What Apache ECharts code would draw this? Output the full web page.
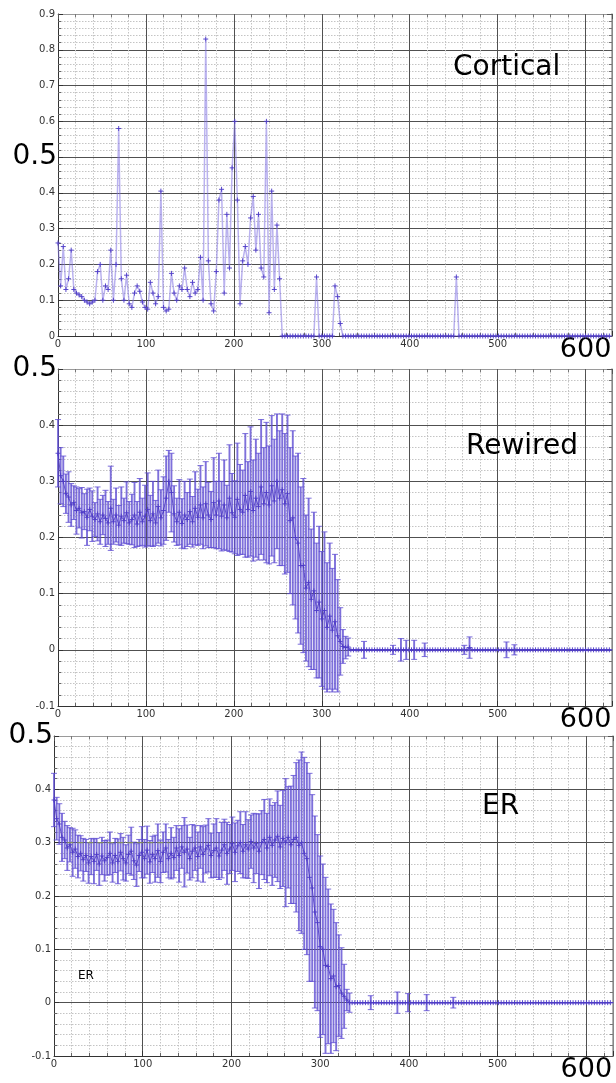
<!DOCTYPE html>
<html>
<head>
<meta charset="utf-8">
<script src="https://cdn.jsdelivr.net/npm/echarts@6/dist/echarts.min.js"></script>
<style>
html, body { margin: 0; padding: 0; background: #fff; }
#chart { width: 616px; height: 1083px; }
</style>
</head>
<body>
<div id="chart"></div>
<script>
// Samples are taken every STEP units along the x axis, starting at 0.
const STEP = 3;

// Panel names
const panelTitles = ['Cortical', 'Rewired', 'ER'];
const erNote = 'ER';

// Tick labels drawn in the large style
const bigXLabel = '600';
const bigYLabel = '0.5';

// Cortical network: single measurement per sample
const corticalY = [
  0.26, 0.14, 0.25, 0.13, 0.16, 0.24, 0.13, 0.12, 0.115, 0.11,
  0.10, 0.095, 0.09, 0.095, 0.10, 0.18, 0.20, 0.10, 0.14, 0.13,
  0.24, 0.10, 0.20, 0.58, 0.16, 0.10, 0.17, 0.09, 0.08, 0.12,
  0.14, 0.125, 0.095, 0.08, 0.075, 0.15, 0.12, 0.09, 0.11, 0.405,
  0.08, 0.07, 0.075, 0.175, 0.12, 0.10, 0.14, 0.13, 0.19, 0.13,
  0.11, 0.15, 0.12, 0.13, 0.22, 0.10, 0.83, 0.21, 0.09, 0.07,
  0.18, 0.38, 0.41, 0.12, 0.34, 0.19, 0.47, 0.60, 0.38, 0.09,
  0.21, 0.25, 0.20, 0.33, 0.39, 0.24, 0.34, 0.19, 0.165, 0.60,
  0.065, 0.405, 0.13, 0.31, 0.16, 0, 0, 0, 0, 0,
  0, 0, 0, 0, 0, 0, 0, 0, 0.165, 0,
  0, 0, 0, 0, 0, 0.14, 0.11, 0.035, 0, 0,
  0, 0, 0, 0, 0, 0, 0, 0, 0, 0,
  0, 0, 0, 0, 0, 0, 0, 0, 0, 0,
  0, 0, 0, 0, 0, 0, 0, 0, 0, 0,
  0, 0, 0, 0, 0, 0, 0, 0, 0, 0,
  0, 0.165, 0, 0, 0, 0, 0, 0, 0, 0,
  0, 0, 0, 0, 0, 0, 0, 0, 0, 0,
  0, 0, 0, 0, 0, 0, 0, 0, 0, 0,
  0, 0, 0, 0, 0, 0, 0, 0, 0, 0,
  0, 0, 0, 0, 0, 0, 0, 0, 0, 0,
  0, 0, 0, 0, 0, 0, 0, 0, 0, 0
];

// Rewired network: mean and error half-width per sample
const rewiredMean = [
  0.35, 0.31, 0.30, 0.278, 0.272, 0.258, 0.262, 0.248, 0.252, 0.244,
  0.246, 0.236, 0.25, 0.238, 0.232, 0.242, 0.228, 0.24, 0.234, 0.226,
  0.252, 0.228, 0.24, 0.222, 0.238, 0.23, 0.244, 0.226, 0.232, 0.24,
  0.224, 0.245, 0.228, 0.238, 0.25, 0.23, 0.242, 0.226, 0.255, 0.235,
  0.248, 0.27, 0.30, 0.28, 0.242, 0.228, 0.245, 0.225, 0.24, 0.232,
  0.246, 0.228, 0.252, 0.236, 0.258, 0.235, 0.26, 0.24, 0.232, 0.262,
  0.24, 0.265, 0.238, 0.258, 0.235, 0.27, 0.244, 0.236, 0.268, 0.25,
  0.245, 0.275, 0.25, 0.282, 0.248, 0.27, 0.255, 0.29, 0.26, 0.28,
  0.258, 0.292, 0.265, 0.30, 0.27, 0.285, 0.26, 0.278, 0.23, 0.235,
  0.20, 0.19, 0.15, 0.15, 0.11, 0.12, 0.09, 0.105, 0.07, 0.085,
  0.055, 0.07, 0.04, 0.06, 0.035, 0.05, 0.025, 0.015, 0.006, 0.004,
  0.005, 0, 0, 0, 0, 0, 0, 0, 0, 0,
  0, 0, 0, 0, 0, 0, 0, 0, 0, 0,
  0, 0, 0, 0, 0, 0, 0, 0, 0, 0,
  0, 0, 0, 0, 0, 0, 0, 0, 0, 0,
  0, 0, 0, 0, 0, 0, 0.004, 0, 0, 0,
  0, 0, 0, 0, 0, 0, 0, 0, 0, 0,
  0, 0, 0, 0, 0, 0, 0, 0, 0, 0,
  0, 0, 0, 0, 0, 0, 0, 0, 0, 0,
  0, 0, 0, 0, 0, 0, 0, 0, 0, 0,
  0, 0, 0, 0, 0, 0, 0, 0, 0, 0
];
const rewiredErr = [
  0.06, 0.05, 0.045, 0.035, 0.045, 0.038, 0.03, 0.042, 0.035, 0.045,
  0.032, 0.05, 0.038, 0.045, 0.03, 0.048, 0.04, 0.035, 0.05, 0.038,
  0.075, 0.04, 0.048, 0.035, 0.052, 0.04, 0.055, 0.038, 0.045, 0.058,
  0.04, 0.06, 0.042, 0.055, 0.065, 0.045, 0.058, 0.04, 0.065, 0.05,
  0.06, 0.075, 0.055, 0.07, 0.05, 0.042, 0.058, 0.044, 0.06, 0.048,
  0.058, 0.045, 0.065, 0.05, 0.07, 0.055, 0.075, 0.058, 0.05, 0.08,
  0.06, 0.085, 0.062, 0.08, 0.058, 0.095, 0.07, 0.065, 0.10, 0.08,
  0.075, 0.11, 0.085, 0.115, 0.09, 0.105, 0.095, 0.12, 0.10, 0.125,
  0.105, 0.125, 0.11, 0.12, 0.12, 0.135, 0.125, 0.14, 0.13, 0.155,
  0.145, 0.16, 0.14, 0.155, 0.13, 0.15, 0.125, 0.14, 0.12, 0.135,
  0.12, 0.14, 0.115, 0.13, 0.11, 0.12, 0.10, 0.06, 0.03, 0.02,
  0.016, 0, 0, 0, 0, 0, 0.015, 0, 0, 0,
  0, 0, 0, 0, 0, 0, 0, 0.008, 0, 0,
  0.02, 0, 0.017, 0, 0, 0.017, 0, 0, 0, 0.012,
  0, 0, 0, 0, 0, 0, 0, 0, 0, 0,
  0, 0, 0, 0, 0.008, 0, 0.019, 0, 0, 0,
  0, 0, 0, 0, 0, 0, 0, 0, 0, 0,
  0.014, 0, 0, 0.009, 0, 0, 0, 0, 0, 0,
  0, 0, 0, 0, 0, 0, 0, 0, 0, 0,
  0, 0, 0, 0, 0, 0, 0, 0, 0, 0,
  0, 0, 0, 0, 0, 0, 0, 0, 0, 0
];

// Erdos-Renyi network: mean and error half-width per sample
const erMean = [
  0.38, 0.345, 0.335, 0.31, 0.305, 0.29, 0.296, 0.282, 0.288, 0.274,
  0.28, 0.268, 0.276, 0.262, 0.274, 0.265, 0.278, 0.26, 0.275, 0.266,
  0.272, 0.28, 0.262, 0.276, 0.265, 0.282, 0.27, 0.262, 0.278, 0.284,
  0.266, 0.258, 0.276, 0.282, 0.27, 0.286, 0.264, 0.278, 0.27, 0.285,
  0.265, 0.282, 0.29, 0.27, 0.28, 0.272, 0.29, 0.276, 0.292, 0.282,
  0.288, 0.27, 0.284, 0.29, 0.274, 0.292, 0.278, 0.288, 0.295, 0.276,
  0.285, 0.29, 0.275, 0.286, 0.296, 0.28, 0.288, 0.298, 0.282, 0.294,
  0.30, 0.284, 0.296, 0.288, 0.302, 0.29, 0.298, 0.284, 0.30, 0.306,
  0.29, 0.31, 0.295, 0.305, 0.312, 0.292, 0.308, 0.30, 0.31, 0.296,
  0.306, 0.31, 0.295, 0.30, 0.28, 0.27, 0.235, 0.215, 0.17, 0.15,
  0.105, 0.10, 0.07, 0.068, 0.045, 0.05, 0.03, 0.032, 0.018, 0.012,
  0.005, 0, 0, 0, 0, 0, 0, 0, 0, 0,
  0, 0, 0, 0, 0, 0, 0, 0, 0, 0,
  0, 0, 0, 0, 0, 0, 0, 0, 0, 0,
  0, 0, 0, 0, 0, 0, 0, 0, 0, 0,
  0, 0, 0, 0, 0, 0, 0, 0, 0, 0,
  0, 0, 0, 0, 0, 0, 0, 0, 0, 0,
  0, 0, 0, 0, 0, 0, 0, 0, 0, 0,
  0, 0, 0, 0, 0, 0, 0, 0, 0, 0,
  0, 0, 0, 0, 0, 0, 0, 0, 0, 0,
  0, 0, 0, 0, 0, 0, 0, 0, 0, 0
];
const erErr = [
  0.05, 0.04, 0.038, 0.045, 0.035, 0.042, 0.032, 0.045, 0.036, 0.04,
  0.033, 0.04, 0.03, 0.038, 0.034, 0.042, 0.03, 0.04, 0.035, 0.038,
  0.033, 0.04, 0.036, 0.032, 0.042, 0.035, 0.04, 0.034, 0.036, 0.045,
  0.035, 0.04, 0.03, 0.048, 0.036, 0.045, 0.04, 0.034, 0.044, 0.05,
  0.04, 0.038, 0.045, 0.036, 0.048, 0.038, 0.042, 0.05, 0.04, 0.065,
  0.045, 0.04, 0.05, 0.042, 0.046, 0.04, 0.052, 0.045, 0.05, 0.042,
  0.05, 0.055, 0.044, 0.052, 0.048, 0.058, 0.046, 0.05, 0.055, 0.048,
  0.058, 0.05, 0.062, 0.055, 0.05, 0.065, 0.056, 0.07, 0.06, 0.075,
  0.065, 0.072, 0.075, 0.07, 0.085, 0.078, 0.09, 0.12, 0.095, 0.11,
  0.12, 0.14, 0.16, 0.17, 0.18, 0.18, 0.195, 0.175, 0.18, 0.165,
  0.17, 0.16, 0.165, 0.145, 0.14, 0.125, 0.12, 0.095, 0.085, 0.06,
  0.02, 0.018, 0, 0, 0, 0, 0, 0, 0, 0.013,
  0, 0, 0, 0, 0, 0, 0, 0, 0, 0.02,
  0, 0, 0, 0.017, 0, 0, 0, 0, 0, 0,
  0.015, 0, 0, 0, 0, 0, 0, 0, 0, 0,
  0.01, 0, 0, 0, 0, 0, 0, 0, 0, 0,
  0, 0, 0, 0, 0, 0, 0, 0, 0, 0,
  0, 0, 0, 0, 0, 0, 0, 0, 0, 0,
  0, 0, 0, 0, 0, 0, 0, 0, 0, 0,
  0, 0, 0, 0, 0, 0, 0, 0, 0, 0,
  0, 0, 0, 0, 0, 0, 0, 0, 0, 0
];

// Dashed reference level in the ER panel
const erGuideX = [15, 130];
const erGuideY = [0.3, 0.3];

// ---------------------------------------------------------------------------
const FONT = 'DejaVu Sans';
const X_MAX = 630;
const Y_RANGES = [[0, 0.9], [-0.1, 0.5], [-0.1, 0.5]];
const GRIDS = [
  { left: 58, top: 14, width: 554, height: 322 },
  { left: 58, top: 369, width: 554, height: 337 },
  { left: 54, top: 736, width: 559, height: 323 }
];
const BAR_COLOR = 'rgba(94, 76, 210, 0.8)';
const CAP_COLOR = 'rgba(94, 76, 210, 0.8)';
const MARK_COLOR = 'rgba(80, 62, 200, 0.95)';
const LINE_COLOR = 'rgba(76, 58, 196, 0.85)';

function xLabel(v) {
  if (v > 600) return '';
  const s = String(v);
  return s === bigXLabel ? '{b|' + s + '}' : '{s|' + s + '}';
}
function yLabel(v) {
  const s = String(Number(v.toFixed(1)));
  return s === bigYLabel ? '{b|' + s + '}' : '{s|' + s + '}';
}

function mainX(i) {
  return {
    type: 'value', gridIndex: i, min: 0, max: X_MAX, interval: 100, position: 'bottom',
    axisLine: { show: true, onZero: false, lineStyle: { color: '#333', width: 1 } },
    axisTick: { show: true, inside: true, length: 5, lineStyle: { color: '#333' } },
    minorTick: { show: true, splitNumber: 5, length: 3, lineStyle: { color: '#666' } },
    splitLine: { show: true, lineStyle: { color: '#505050', width: 1 } },
    minorSplitLine: { show: true, lineStyle: { color: '#c4c4c4', width: 1, type: [1.5, 1.5] } },
    axisLabel: {
      margin: 0, formatter: xLabel,
      rich: {
        s: { fontFamily: FONT, fontSize: 10, color: '#333', lineHeight: 12, padding: [5, 0, 0, 0] },
        b: { fontFamily: FONT, fontSize: 27, color: '#000', lineHeight: 27 }
      }
    }
  };
}
function mirrorX(i) {
  return {
    type: 'value', gridIndex: i, min: 0, max: X_MAX, interval: 100, position: 'top',
    axisLine: { show: true, onZero: false, lineStyle: { color: '#9a9a9a', width: 1 } },
    axisTick: { show: true, inside: true, length: 5, lineStyle: { color: '#555' } },
    minorTick: { show: true, splitNumber: 5, length: 3, lineStyle: { color: '#777' } },
    splitLine: { show: false }, minorSplitLine: { show: false },
    axisLabel: { show: false }
  };
}
function mainY(i) {
  return {
    type: 'value', gridIndex: i, min: Y_RANGES[i][0], max: Y_RANGES[i][1], interval: 0.1,
    position: 'left',
    axisLine: { show: true, onZero: false, lineStyle: { color: '#333', width: 1 } },
    axisTick: { show: true, inside: true, length: 5, lineStyle: { color: '#333' } },
    minorTick: { show: true, splitNumber: 5, length: 3, lineStyle: { color: '#666' } },
    splitLine: { show: true, lineStyle: { color: '#505050', width: 1 } },
    minorSplitLine: { show: true, lineStyle: { color: '#c4c4c4', width: 1, type: [1.5, 1.5] } },
    axisLabel: {
      margin: 1, formatter: yLabel,
      rich: {
        s: { fontFamily: FONT, fontSize: 10, color: '#333', padding: [0, 2, 0, 0] },
        b: { fontFamily: FONT, fontSize: 28, color: '#000' }
      }
    }
  };
}
function mirrorY(i) {
  return {
    type: 'value', gridIndex: i, min: Y_RANGES[i][0], max: Y_RANGES[i][1], interval: 0.1,
    position: 'right',
    axisLine: { show: true, onZero: false, lineStyle: { color: '#9a9a9a', width: 1.5 } },
    axisTick: { show: true, inside: true, length: 5, lineStyle: { color: '#555' } },
    minorTick: { show: true, splitNumber: 5, length: 3, lineStyle: { color: '#777' } },
    splitLine: { show: false }, minorSplitLine: { show: false },
    axisLabel: { show: false }
  };
}

// Vertical error bar with caps and a "+" marker at the mean
function renderErrorBar(params, api) {
  const x = api.value(0), m = api.value(1), e = api.value(2);
  const p = api.coord([x, m]);
  const hi = api.coord([x, m + e])[1];
  const lo = api.coord([x, m - e])[1];
  const cap = 3, mk = 2.5;
  const bar = { stroke: BAR_COLOR, lineWidth: 1.9 };
  const capStyle = { stroke: CAP_COLOR, lineWidth: 1 };
  const mark = { stroke: MARK_COLOR, lineWidth: 1 };
  const children = [];
  if (e > 0) {
    children.push({ type: 'line', shape: { x1: p[0], y1: hi, x2: p[0], y2: lo }, style: bar });
  }
  children.push({ type: 'line', shape: { x1: p[0] - cap, y1: hi, x2: p[0] + cap, y2: hi }, style: capStyle });
  children.push({ type: 'line', shape: { x1: p[0] - cap, y1: lo, x2: p[0] + cap, y2: lo }, style: capStyle });
  children.push({ type: 'line', shape: { x1: p[0] - mk, y1: p[1], x2: p[0] + mk, y2: p[1] }, style: mark });
  children.push({ type: 'line', shape: { x1: p[0], y1: p[1] - mk, x2: p[0], y2: p[1] + mk }, style: mark });
  return { type: 'group', children: children };
}
// "+" marker only
function renderPlus(params, api) {
  const p = api.coord([api.value(0), api.value(1)]);
  const mk = 2.5;
  const mark = { stroke: MARK_COLOR, lineWidth: 1 };
  return {
    type: 'group', children: [
      { type: 'line', shape: { x1: p[0] - mk, y1: p[1], x2: p[0] + mk, y2: p[1] }, style: mark },
      { type: 'line', shape: { x1: p[0], y1: p[1] - mk, x2: p[0], y2: p[1] + mk }, style: mark }
    ]
  };
}

const pts = (ys) => ys.map((y, i) => [i * STEP, y]);
const ptsErr = (ys, es) => ys.map((y, i) => [i * STEP, y, es[i]]);

function meanLine(i, ys) {
  return {
    type: 'line', xAxisIndex: i, yAxisIndex: i, data: pts(ys),
    showSymbol: false, silent: true, z: 4,
    lineStyle: { color: LINE_COLOR, width: 1 }
  };
}
function errorBars(i, ys, es) {
  return {
    type: 'custom', xAxisIndex: i, yAxisIndex: i, data: ptsErr(ys, es),
    renderItem: renderErrorBar, silent: true, z: 3
  };
}

const series = [
  {
    type: 'line', xAxisIndex: 0, yAxisIndex: 0, data: pts(corticalY),
    showSymbol: false, silent: true, z: 3,
    lineStyle: { color: 'rgba(130, 115, 225, 0.55)', width: 1.5 }
  },
  { type: 'custom', xAxisIndex: 0, yAxisIndex: 0, data: pts(corticalY), renderItem: renderPlus, silent: true, z: 4 },
  errorBars(1, rewiredMean, rewiredErr),
  meanLine(1, rewiredMean),
  errorBars(2, erMean, erErr),
  meanLine(2, erMean),
  {
    type: 'line', xAxisIndex: 2, yAxisIndex: 2,
    data: erGuideX.map((x, k) => [x, erGuideY[k]]),
    showSymbol: false, silent: true, z: 5,
    lineStyle: { color: '#7f8a62', width: 1.2, type: [6, 4] }
  }
];

function titleText(text, x, y, size) {
  return {
    type: 'text', x: x, y: y, z: 10, silent: true,
    style: {
      text: text, fill: '#000', font: size + 'px "' + FONT + '"',
      textAlign: 'left', textVerticalAlign: 'middle', align: 'left', verticalAlign: 'middle'
    }
  };
}

const chart = echarts.init(document.getElementById('chart'), null, { renderer: 'canvas' });
chart.setOption({
  animation: false,
  backgroundColor: '#ffffff',
  textStyle: { fontFamily: FONT },
  grid: GRIDS.map(g => Object.assign({ containLabel: false }, g)),
  xAxis: [mainX(0), mainX(1), mainX(2), mirrorX(0), mirrorX(1), mirrorX(2)],
  yAxis: [mainY(0), mainY(1), mainY(2), mirrorY(0), mirrorY(1), mirrorY(2)],
  series: series,
  graphic: [
    titleText(panelTitles[0], 453, 68, 28),
    titleText(panelTitles[1], 466, 447, 28),
    titleText(panelTitles[2], 482, 807, 28),
    titleText(erNote, 78, 976, 12)
  ]
});
</script>
</body>
</html>
